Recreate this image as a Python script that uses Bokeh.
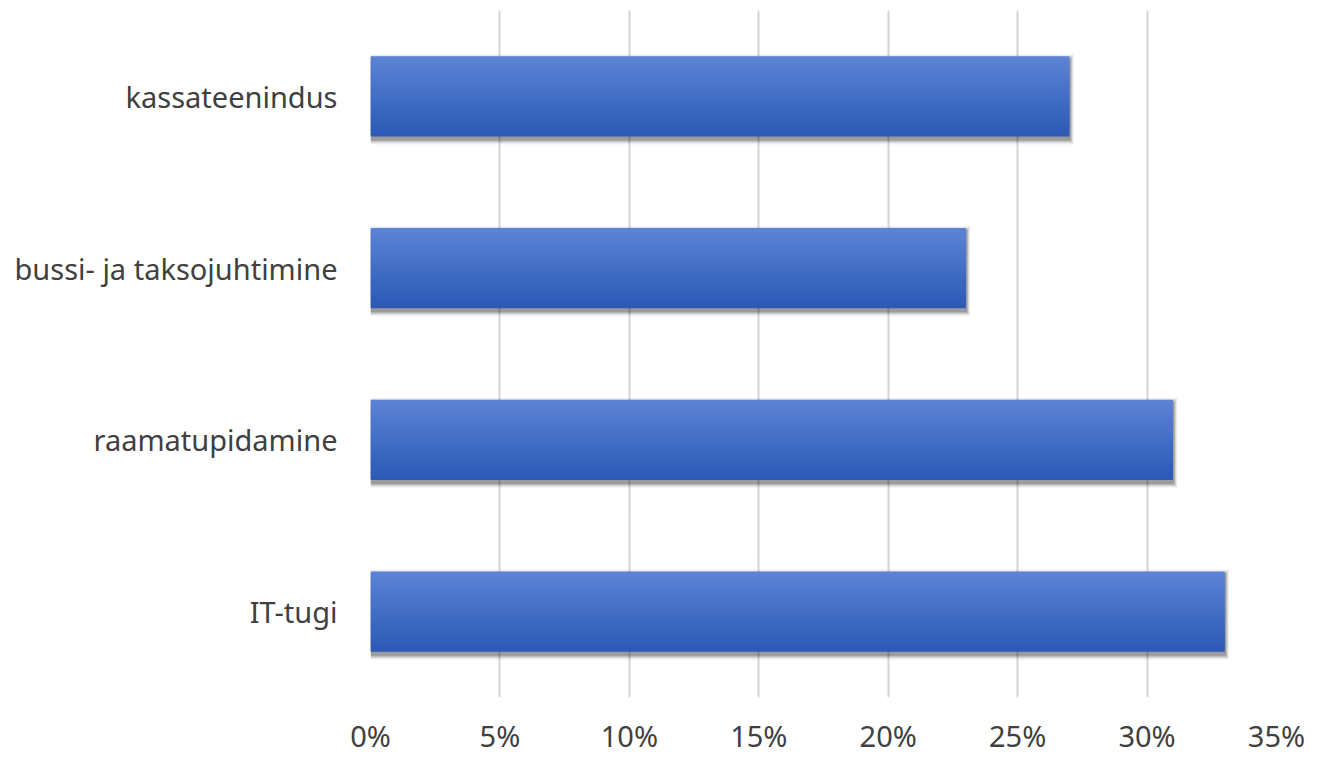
from bokeh.plotting import figure
from bokeh.embed import file_html
from bokeh.resources import INLINE
from bokeh.models import ColumnDataSource, NumeralTickFormatter, FixedTicker
from bokeh.transform import dodge

categories = ["IT-tugi", "raamatupidamine", "bussi- ja taksojuhtimine", "kassateenindus"]
values = [0.33, 0.31, 0.23, 0.27]
tick_values = [0, 0.05, 0.10, 0.15, 0.20, 0.25, 0.30, 0.35]

src = ColumnDataSource(dict(cat=categories, val=values))

p = figure(width=1305, height=760, y_range=categories, x_range=(0, 0.35),
           output_backend="svg", toolbar_location=None,
           min_border_left=370, min_border_right=29, min_border_top=10, min_border_bottom=63)
p.outline_line_color = None
p.background_fill_color = "white"
p.border_fill_color = "white"

bar_h = 0.466
px = 1.0 / 171.75        # one pixel in category units (approx.)
dx = 0.35 / 906.0        # one pixel in x units (approx.)

# soft shadow (below and to the right)
for i, a in enumerate([0.04, 0.06, 0.09, 0.12, 0.15]):
    s = 5 - i
    p.hbar(y=dodge("cat", -3 * px, range=p.y_range), left=0,
           right=dodge("val", (0.5 + s * 0.8) * dx),
           height=bar_h + 2 * s * px, source=src, fill_color="black", fill_alpha=a,
           line_color=None)

# gradient bar from stacked stripes
n = 24
top = (92, 131, 213)
bot = (45, 90, 182)
stripe = bar_h / n
for k in range(n):
    t = k / (n - 1)
    c = tuple(int(round(top[j] + (bot[j] - top[j]) * t)) for j in range(3))
    color = "#%02x%02x%02x" % c
    h = stripe if k == 0 or k == n - 1 else stripe * 1.8
    off = bar_h / 2 - (k + 0.5) * stripe
    p.hbar(y=dodge("cat", off, range=p.y_range), left=0, right="val",
           height=h, source=src, fill_color=color, line_color=None)

p.xaxis.ticker = FixedTicker(ticks=tick_values)
p.xaxis.formatter = NumeralTickFormatter(format="0%")
p.xgrid.ticker = FixedTicker(ticks=tick_values)
p.xgrid.grid_line_color = "#d4d4d4"
p.xgrid.grid_line_width = 2
p.ygrid.grid_line_color = None

for ax in (p.xaxis, p.yaxis):
    ax.axis_line_color = None
    ax.major_tick_line_color = None
    ax.minor_tick_line_color = None
    ax.major_label_text_font = "Noto Sans"
    ax.major_label_text_font_size = "29px"
    ax.major_label_text_color = "#404040"
    ax.major_label_text_line_height = 0.9
    ax.axis_label_standoff = 0
    ax.major_tick_out = 0
    ax.major_tick_in = 0
p.yaxis.major_label_standoff = 33
p.xaxis.major_label_standoff = 18

open("out.html", "w").write(file_html(p, INLINE))
